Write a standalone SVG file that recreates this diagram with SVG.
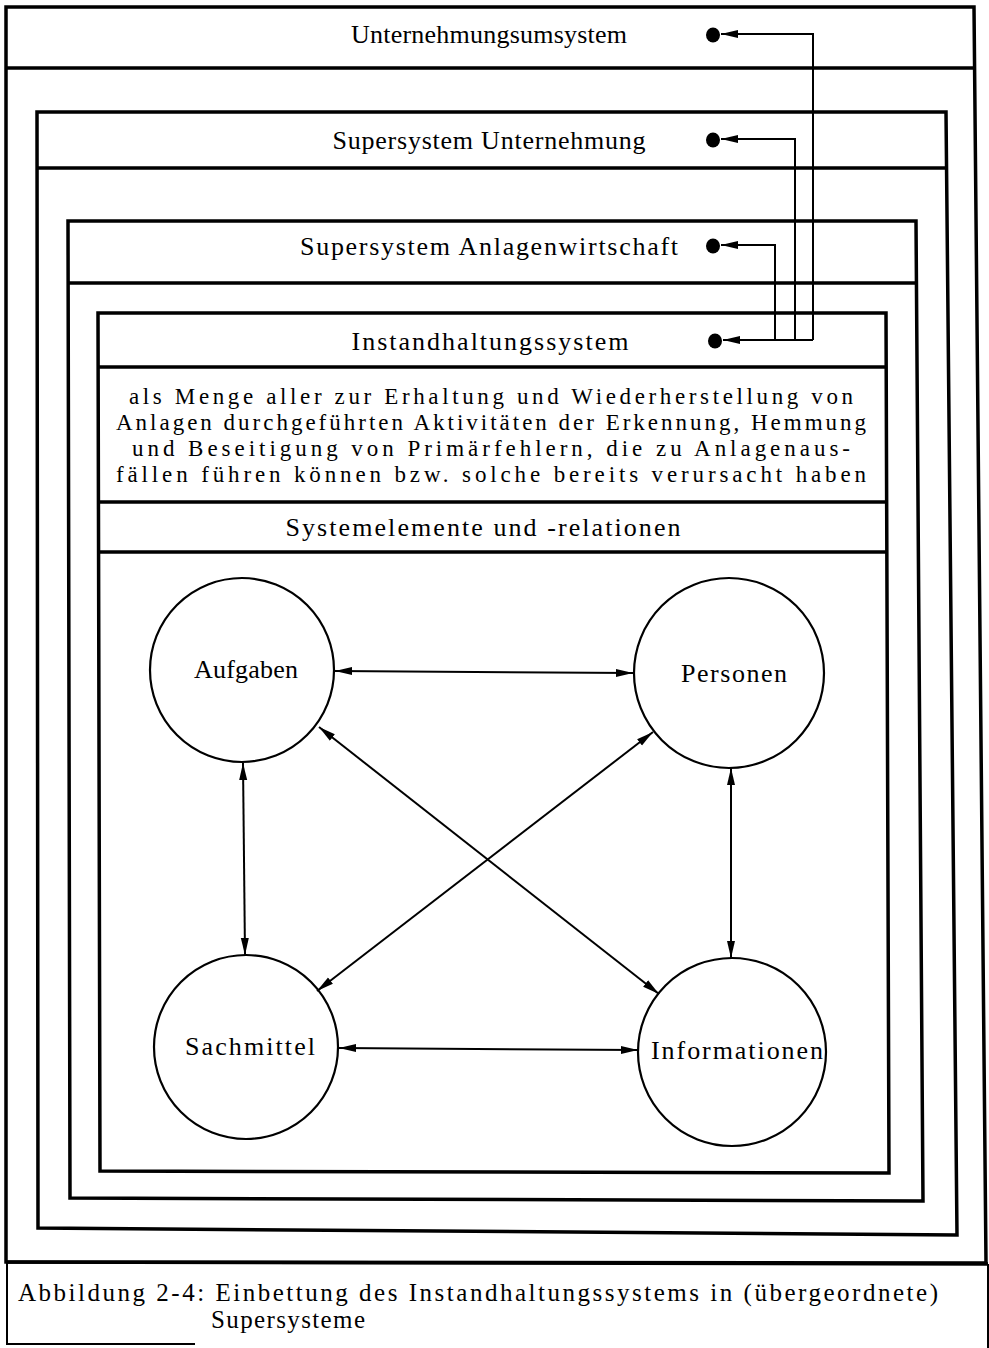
<svg xmlns="http://www.w3.org/2000/svg" width="989" height="1348" viewBox="0 0 989 1348">
  <style>
    .frame { fill: none; stroke: #000; stroke-width: 3.5; stroke-linejoin: miter; }
    .thin { fill: none; stroke: #000; stroke-width: 2; }
    .node { fill: #fff; stroke: #000; stroke-width: 2.2; }
    .link { fill: none; stroke: #000; stroke-width: 2; }
    .dot { fill: #000; }
    text { font-family: "Liberation Serif", "Times New Roman", serif; font-size: 26px; fill: #000; }
    .c { text-anchor: middle; }
    .cap { font-size: 25px; }
    .desc { font-size: 23px; }
  </style>
  <defs>
    <marker id="head" markerUnits="userSpaceOnUse" markerWidth="18" markerHeight="10" refX="17" refY="5" orient="auto-start-reverse">
      <path d="M0,1 L17,5 L0,9 z" fill="#000"/>
    </marker>
  </defs>

  <rect x="0" y="0" width="989" height="1348" fill="#fff"/>

  <!-- outermost system: Unternehmungsumsystem -->
  <g id="umsystem">
    <path class="frame" d="M6,7 L974,7 L986,1263 L6,1262 Z" stroke-width="3"/>
    <line class="frame" x1="6" y1="68" x2="974" y2="68"/>
    <text class="c" x="489" y="43" textLength="276" lengthAdjust="spacing">Unternehmungsumsystem</text>
  </g>

  <!-- caption area -->
  <g id="caption">
    <line class="frame" x1="6" y1="1262" x2="988" y2="1264" stroke-width="3"/>
    <line class="thin" x1="7" y1="1262" x2="7" y2="1344" stroke-width="1.5"/>
    <line class="thin" x1="988" y1="1264" x2="988" y2="1348" stroke-width="1.5"/>
    <line class="thin" x1="6" y1="1344" x2="195" y2="1344" stroke-width="1.5"/>
    <text class="cap" x="18" y="1301" textLength="920" lengthAdjust="spacing">Abbildung 2-4: Einbettung des Instandhaltungssystems in (übergeordnete)</text>
    <text class="cap" x="211" y="1328" textLength="154" lengthAdjust="spacing">Supersysteme</text>
  </g>

  <!-- Supersystem Unternehmung -->
  <g id="unternehmung">
    <path class="frame" d="M37,112 L946,112 L957,1235 L38,1228 Z"/>
    <line class="frame" x1="37" y1="168" x2="946" y2="168"/>
    <text class="c" x="489" y="149" textLength="313" lengthAdjust="spacing">Supersystem Unternehmung</text>
  </g>

  <!-- Supersystem Anlagenwirtschaft -->
  <g id="anlagenwirtschaft">
    <path class="frame" d="M68,221 L916,221 L923,1201 L70,1198 Z"/>
    <line class="frame" x1="68" y1="283" x2="916" y2="283"/>
    <text class="c" x="489" y="255" textLength="378" lengthAdjust="spacing">Supersystem Anlagenwirtschaft</text>
  </g>

  <!-- Instandhaltungssystem -->
  <g id="instandhaltung">
    <path class="frame" d="M98,313 L886,313 L889,1173 L100,1171 Z"/>
    <line class="frame" x1="98" y1="367" x2="886" y2="367"/>
    <line class="frame" x1="98" y1="502" x2="887" y2="502" stroke-width="3"/>
    <line class="frame" x1="98" y1="552" x2="887" y2="552" stroke-width="2.5"/>
    <text class="c" x="490" y="350" textLength="277" lengthAdjust="spacing">Instandhaltungssystem</text>
    <text class="c desc" x="491" y="404" textLength="724" lengthAdjust="spacing">als Menge aller zur Erhaltung und Wiederherstellung von</text>
    <text class="c desc" x="491" y="430" textLength="750" lengthAdjust="spacing">Anlagen durchgeführten Aktivitäten der Erkennung, Hemmung</text>
    <text class="c desc" x="491" y="456" textLength="718" lengthAdjust="spacing">und Beseitigung von Primärfehlern, die zu Anlagenaus-</text>
    <text class="c desc" x="491" y="482" textLength="750" lengthAdjust="spacing">fällen führen können bzw. solche bereits verursacht haben</text>
    <text class="c" x="483" y="536" textLength="395" lengthAdjust="spacing">Systemelemente und -relationen</text>
  </g>

  <!-- system elements -->
  <g id="aufgaben">
    <circle class="node" cx="242" cy="670" r="92"/>
    <text class="c" x="246" y="678" textLength="104" lengthAdjust="spacing">Aufgaben</text>
  </g>
  <g id="personen">
    <circle class="node" cx="729" cy="673" r="95"/>
    <text class="c" x="734" y="682" textLength="106" lengthAdjust="spacing">Personen</text>
  </g>
  <g id="sachmittel">
    <circle class="node" cx="246" cy="1047" r="92"/>
    <text class="c" x="250" y="1055" textLength="130" lengthAdjust="spacing">Sachmittel</text>
  </g>
  <g id="informationen">
    <circle class="node" cx="732" cy="1052" r="94"/>
    <text class="c" x="737" y="1059" textLength="172" lengthAdjust="spacing">Informationen</text>
  </g>

  <!-- reference points of the system levels -->
  <g id="anchors">
    <ellipse class="dot" cx="713" cy="35" rx="7" ry="7.5"/>
    <ellipse class="dot" cx="713" cy="140" rx="7" ry="7.5"/>
    <ellipse class="dot" cx="713" cy="246" rx="7" ry="7.5"/>
    <ellipse class="dot" cx="715" cy="341" rx="7" ry="7.5"/>
  </g>

  <!-- connectors -->
  <g id="connectors">
    <path class="link" d="M813,340 L813,34 L721,34" marker-end="url(#head)"/>
    <path class="link" d="M795,340 L795,139 L721,139" marker-end="url(#head)"/>
    <path class="link" d="M775,340 L775,245 L721,245" marker-end="url(#head)"/>
    <path class="link" d="M813,340 L723,340" marker-end="url(#head)"/>

    <line class="link" x1="335" y1="671" x2="633" y2="673" marker-start="url(#head)" marker-end="url(#head)"/>
    <line class="link" x1="243" y1="763" x2="245" y2="955" marker-start="url(#head)" marker-end="url(#head)"/>
    <line class="link" x1="731" y1="768" x2="731" y2="958" marker-start="url(#head)" marker-end="url(#head)"/>
    <line class="link" x1="339" y1="1048" x2="638" y2="1050" marker-start="url(#head)" marker-end="url(#head)"/>
    <line class="link" x1="319" y1="727" x2="659" y2="994" marker-start="url(#head)" marker-end="url(#head)"/>
    <line class="link" x1="653" y1="732" x2="317" y2="991" marker-start="url(#head)" marker-end="url(#head)"/>
  </g>
</svg>
